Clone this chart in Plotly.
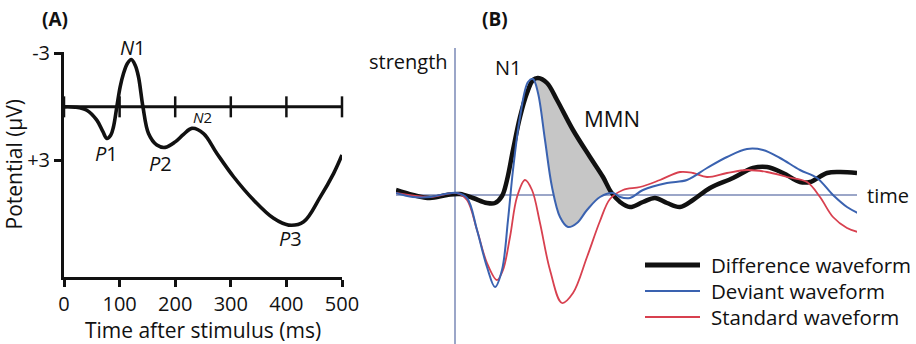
import plotly.graph_objects as go

# ---------------- Panel A data (time in ms, potential in µV; negative up) ----------------
time_a = [0, 20, 41, 59, 70, 77, 84, 89, 95, 101, 107, 114, 121, 128, 134, 142, 152, 167,
          182, 200, 215, 230, 251, 275, 305, 341, 377, 404, 431, 461, 485, 500]
pot_a = [0, 0.02, 0.19, 0.75, 1.4, 1.78, 1.6, 1.12, 0.0, -1.12, -1.87, -2.44, -2.66, -2.34,
         -1.69, 0.0, 1.5, 2.15, 2.28, 1.97, 1.55, 1.21, 1.5, 2.62, 3.93, 5.24, 6.27, 6.65,
         6.46, 5.06, 3.74, 2.71]
xticks_a = [0, 100, 200, 300, 400, 500]
yticks_a = [-3, 3]
yticklabels_a = ["-3", "+3"]
peak_names = ["<i>N</i>1", "<i>P</i>1", "<i>P</i>2", "<i>N</i>2", "<i>P</i>3"]
peak_t = [124, 76, 173, 249, 407]
peak_v = [-3.05, 2.6, 3.16, 0.58, 7.4]
peak_shift = [5, 0, 0, 0, 0]
peak_size = [20, 20, 20, 15, 20]

# ---------------- Panel B data (arbitrary time units / arbitrary strength, up positive) ----------------
diff_t = [-5.9, -4.2, -2.5, -0.8, 0.5, 1.8, 3.2, 4.0, 4.7, 5.2, 5.8, 6.5, 7.2, 7.8, 8.3, 9.2,
          10.2, 11.8, 13.5, 14.8, 15.6, 16.5, 17.5, 18.8, 20.0, 21.2, 22.5, 23.8, 25.5, 27.8,
          29.8, 31.2, 32.8, 34.5, 35.5, 37.2, 38.5, 40.2]
diff_v = [0.5, 0.0, -0.3, 0.0, 0.1, -0.3, -0.8, -0.8, -0.1, 1.5, 4.5, 7.8, 10.2, 11.5, 11.7,
          11.2, 9.5, 6.5, 3.8, 1.8, 0.3, -0.7, -1.2, -0.7, -0.3, -0.8, -1.2, -0.5, 0.7, 1.7,
          2.7, 2.8, 2.2, 1.3, 1.3, 2.2, 2.3, 2.2]

dev_t = [-5.9, -4.2, -2.5, -1.0, 0.2, 1.2, 2.2, 3.2, 4.0, 4.7, 5.3, 5.8, 6.5, 7.3, 7.8, 8.3,
         9.0, 9.7, 10.5, 11.3, 12.2, 13.2, 14.5, 15.8, 16.5, 17.5, 18.8, 21.2, 23.2, 25.2,
         27.2, 29.2, 30.8, 32.5, 34.5, 36.2, 37.8, 39.2, 40.3]
dev_v = [0.2, -0.2, -0.2, 0.1, 0.2, -0.3, -3.5, -7.2, -9.2, -7.5, -2.5, 2.5, 7.8, 11.3, 11.6,
         10.2, 5.5, 0.8, -2.2, -3.2, -2.8, -1.5, -0.2, 0.2, -0.2, -0.3, 0.5, 1.2, 1.5, 2.7,
         3.8, 4.6, 4.5, 3.7, 2.5, 1.7, 0.0, -1.2, -1.8]

std_t = [-5.9, -2.5, 0.2, 1.2, 2.2, 3.2, 4.2, 4.8, 5.5, 6.2, 7.0, 7.7, 8.5, 9.5, 10.7, 11.8,
         13.2, 14.5, 15.5, 16.8, 18.5, 20.5, 22.5, 23.8, 25.2, 27.2, 29.2, 31.2, 33.2, 35.2,
         36.5, 37.8, 39.2, 40.3]
std_v = [0.2, -0.2, 0.2, -0.5, -3.5, -6.8, -8.5, -7.5, -4.2, -0.2, 1.5, 0.5, -2.8, -7.5,
         -10.8, -9.8, -6.2, -2.6, -0.4, 0.5, 0.8, 1.5, 2.3, 2.2, 1.8, 2.2, 2.5, 2.3, 1.8, 1.3,
         -0.2, -2.2, -3.3, -3.7]

mmn_start, mmn_end = 7.8, 15.8
legend_names = ["Difference waveform", "Deviant waveform", "Standard waveform"]

# ---------------- styling ----------------
W, H = 916, 344
FONT = "Open Sans"
BLACK = "#111111"
BLUE = "#3a62b0"
RED = "#d8404f"
AXB = "#9ba6c8"

def px(x):
    return x / W

def py(y):
    return 1 - y / H

a_xrange = [0, 500]
a_yrange = [9.55, -3.1]

fig = go.Figure()

# ---- Panel A ----
fig.add_trace(go.Scatter(x=[xticks_a[0], xticks_a[-1]], y=[0, 0], mode="lines",
                         line=dict(color=BLACK, width=3), xaxis="x", yaxis="y",
                         showlegend=False, hoverinfo="skip"))
fig.add_trace(go.Scatter(x=xticks_a, y=[0] * len(xticks_a), mode="markers",
                         marker=dict(symbol="line-ns", size=15,
                                     line=dict(color=BLACK, width=2.5)),
                         xaxis="x", yaxis="y", showlegend=False, hoverinfo="skip",
                         cliponaxis=False))
fig.add_trace(go.Scatter(x=time_a, y=pot_a, mode="lines",
                         line=dict(color=BLACK, width=3.6, shape="spline", smoothing=1),
                         xaxis="x", yaxis="y", showlegend=False))

# ---- Panel B ----
mmn_x = [t for t in diff_t if mmn_start <= t <= mmn_end] + \
        [t for t in dev_t if mmn_start <= t <= mmn_end][::-1]
mmn_y = [v for t, v in zip(diff_t, diff_v) if mmn_start <= t <= mmn_end] + \
        [v for t, v in zip(dev_t, dev_v) if mmn_start <= t <= mmn_end][::-1]
fig.add_trace(go.Scatter(x=mmn_x, y=mmn_y, mode="lines", fill="toself",
                         fillcolor="#c6c6c6", line=dict(width=0, shape="spline"),
                         xaxis="x2", yaxis="y2", showlegend=False, hoverinfo="skip"))
fig.add_trace(go.Scatter(x=diff_t, y=diff_v, mode="lines", name=legend_names[0],
                         line=dict(color=BLACK, width=4.5, shape="spline"),
                         xaxis="x2", yaxis="y2", showlegend=False))
fig.add_trace(go.Scatter(x=std_t, y=std_v, mode="lines", name=legend_names[2],
                         line=dict(color=RED, width=1.8, shape="spline"),
                         xaxis="x2", yaxis="y2", showlegend=False))
fig.add_trace(go.Scatter(x=dev_t, y=dev_v, mode="lines", name=legend_names[1],
                         line=dict(color=BLUE, width=2, shape="spline"),
                         xaxis="x2", yaxis="y2", showlegend=False))

tickfont = dict(family=FONT, size=20, color=BLACK)
fig.update_layout(
    width=W, height=H, margin=dict(l=0, r=0, t=0, b=0, autoexpand=False),
    paper_bgcolor="white", plot_bgcolor="rgba(0,0,0,0)",
    font=dict(family=FONT, color=BLACK),
    xaxis=dict(domain=[px(64), px(342)], range=a_xrange, anchor="y", automargin=False,
               showline=True, linewidth=3, linecolor=BLACK,
               ticks="outside", ticklen=7, tickwidth=2.5, tickcolor=BLACK,
               tickvals=xticks_a, tickfont=tickfont, showgrid=False, zeroline=False,
               title=dict(text="Time after stimulus (ms)", font=dict(family=FONT, size=21),
                          standoff=2)),
    xaxis3=dict(overlaying="x", anchor="y", range=a_xrange, domain=[px(64), px(342)],
                automargin=False,
                ticks="inside", ticklen=7, tickwidth=2.5, tickcolor=BLACK,
                tickvals=xticks_a, showticklabels=False, showgrid=False, zeroline=False),
    yaxis=dict(domain=[py(276.7), py(51.7)], range=a_yrange, anchor="x", automargin=False,
               showline=True, linewidth=3, linecolor=BLACK,
               ticks="outside", ticklen=7, tickwidth=2.5, tickcolor=BLACK,
               tickvals=yticks_a, ticktext=yticklabels_a, tickfont=tickfont,
               showgrid=False, zeroline=False,
               title=dict(text="Potential (µV)", font=dict(family=FONT, size=21),
                          standoff=4)),
    yaxis3=dict(overlaying="y", anchor="x", range=a_yrange, domain=[py(276.7), py(51.7)],
                automargin=False,
                ticks="inside", ticklen=7, tickwidth=2.5, tickcolor=BLACK,
                tickvals=yticks_a, showticklabels=False, showgrid=False, zeroline=False),
    xaxis2=dict(domain=[px(396), px(857)], range=[-5.9, 40.2], anchor="y2", automargin=False,
                showgrid=False, showline=False, showticklabels=False, ticks="",
                zeroline=True, zerolinecolor=AXB, zerolinewidth=1.6),
    yaxis2=dict(domain=[0, py(48)], range=[-14.9, 14.7], anchor="x2", automargin=False,
                showgrid=False, showline=False, showticklabels=False, ticks="",
                zeroline=True, zerolinecolor=AXB, zerolinewidth=1.6),
)

ann = []
for name, t, v, s, sh in zip(peak_names, peak_t, peak_v, peak_size, peak_shift):
    ann.append(dict(x=t, y=v, xref="x", yref="y", text=name, showarrow=False,
                    xanchor="center", yanchor="middle", yshift=sh,
                    font=dict(family=FONT, size=s, color=BLACK)))
ann += [
    dict(x=px(55), y=py(19), xref="paper", yref="paper", text="<b>(A)</b>", showarrow=False,
         xanchor="center", yanchor="middle", font=dict(family=FONT, size=19)),
    dict(x=px(495), y=py(19), xref="paper", yref="paper", text="<b>(B)</b>", showarrow=False,
         xanchor="center", yanchor="middle", font=dict(family=FONT, size=19)),
    dict(x=-4.7, y=13.4, xref="x2", yref="y2", text="strength", showarrow=False,
         xanchor="center", yanchor="middle", font=dict(family=FONT, size=20)),
    dict(x=5.3, y=12.8, xref="x2", yref="y2", text="N1", showarrow=False,
         xanchor="center", yanchor="middle", font=dict(family=FONT, size=20)),
    dict(x=15.7, y=7.7, xref="x2", yref="y2", text="MMN", showarrow=False,
         xanchor="center", yanchor="middle", font=dict(family=FONT, size=22)),
    dict(x=px(865), y=py(195), xref="paper", yref="paper", text="time", showarrow=False,
         xanchor="left", yanchor="middle", font=dict(family=FONT, size=20)),
]
shapes = []
leg_y = [265, 291, 317]
leg_col = [BLACK, BLUE, RED]
leg_w = [5, 2, 2]
for name, yy, c, w in zip(legend_names, leg_y, leg_col, leg_w):
    shapes.append(dict(type="line", xref="paper", yref="paper", x0=px(645), x1=px(700),
                       y0=py(yy), y1=py(yy), line=dict(color=c, width=w)))
    ann.append(dict(x=px(709), y=py(yy), xref="paper", yref="paper", text=name,
                    showarrow=False, xanchor="left", yanchor="middle",
                    font=dict(family=FONT, size=20.5)))
fig.update_layout(annotations=ann, shapes=shapes)

fig.write_html("out.html", config={"displayModeBar": False},
               post_script="document.body.style.margin='0';document.body.style.padding='0';")
